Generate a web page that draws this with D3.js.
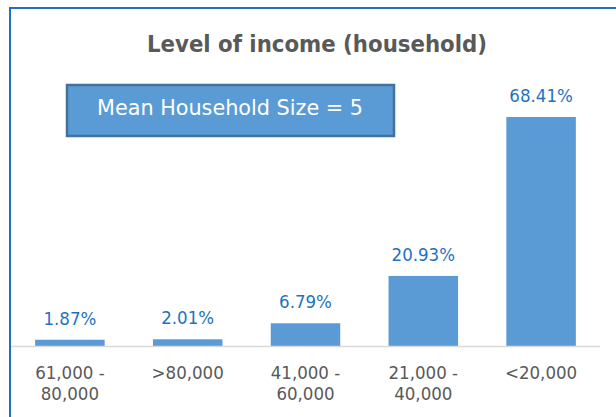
<!DOCTYPE html>
<html>
<head>
<meta charset="utf-8">
<script src="https://cdn.jsdelivr.net/npm/d3@7"></script>
<style>
  body { margin: 0; background: #fff; }
  svg { display: block; }
</style>
</head>
<body>
<svg id="chart"></svg>
<script>
var categories = [["61,000 -", "80,000"], [">80,000"], ["41,000 -", "60,000"], ["21,000 -", "40,000"], ["<20,000"]];
var values = [1.87, 2.01, 6.79, 20.93, 68.41];
var valueLabels = ["1.87%", "2.01%", "6.79%", "20.93%", "68.41%"];

var width = 616, height = 417;
var font = "DejaVu Sans Condensed, DejaVu Sans";
var svg = d3.select("#chart").attr("width", width).attr("height", height);

// frame, cut at right and bottom like the reference
svg.append("path")
   .attr("d", "M10,420 L10,8 L620,8")
   .style("fill", "none")
   .style("stroke", "#2271C0")
   .style("stroke-width", 2);

var x = d3.scaleBand()
    .domain(d3.range(values.length))
    .range([11, 600])
    .paddingInner(0.41)
    .paddingOuter(0.205);

var y = d3.scaleLinear()
    .domain([0, 68.41])
    .range([346, 117]);

svg.append("text")
   .text("Level of income (household)")
   .attr("x", 317)
   .attr("y", 52)
   .attr("text-anchor", "middle")
   .attr("textLength", 340)
   .attr("lengthAdjust", "spacingAndGlyphs")
   .style("font-family", font)
   .style("font-weight", "bold")
   .style("font-size", "23px")
   .style("fill", "#595959");

svg.selectAll("rect.bar")
   .data(values)
   .enter().append("rect")
   .attr("class", "bar")
   .attr("x", function(d, i){ return x(i); })
   .attr("y", function(d){ return y(d); })
   .attr("width", x.bandwidth())
   .attr("height", function(d){ return y(0) - y(d); })
   .style("fill", "#5B9BD5");

svg.selectAll("text.val")
   .data(values)
   .enter().append("text")
   .attr("class", "val")
   .text(function(d, i){ return valueLabels[i]; })
   .attr("x", function(d, i){ return x(i) + x.bandwidth() / 2; })
   .attr("y", function(d){ return y(d) - 15; })
   .attr("text-anchor", "middle")
   .style("font-family", font)
   .style("font-size", "18.5px")
   .style("fill", "#1F72C0");

// baseline
svg.append("line")
   .attr("x1", 11).attr("x2", 600)
   .attr("y1", y(0) + 0.5).attr("y2", y(0) + 0.5)
   .style("stroke", "#D9D9D9")
   .style("stroke-width", 1.5);

var cats = svg.selectAll("text.cat")
   .data(categories)
   .enter().append("text")
   .attr("class", "cat")
   .attr("text-anchor", "middle")
   .style("font-family", font)
   .style("font-size", "18.5px")
   .style("fill", "#595959");

cats.selectAll("tspan")
   .data(function(d, i){ return d.map(function(t){ return {t: t, i: i}; }); })
   .enter().append("tspan")
   .attr("x", function(d){ return x(d.i) + x.bandwidth() / 2; })
   .attr("y", function(d, j){ return 379 + j * 21; })
   .text(function(d){ return d.t; });

// annotation box
svg.append("rect")
   .attr("x", 67).attr("y", 85)
   .attr("width", 327).attr("height", 51)
   .style("fill", "#5B9BD5")
   .style("stroke", "#41719C")
   .style("stroke-width", 2.5);

svg.append("text")
   .text("Mean Household Size = 5")
   .attr("x", 230)
   .attr("y", 115)
   .attr("text-anchor", "middle")
   .attr("textLength", 266)
   .attr("lengthAdjust", "spacingAndGlyphs")
   .style("font-family", font)
   .style("font-size", "22px")
   .style("fill", "#fff");
</script>
</body>
</html>
